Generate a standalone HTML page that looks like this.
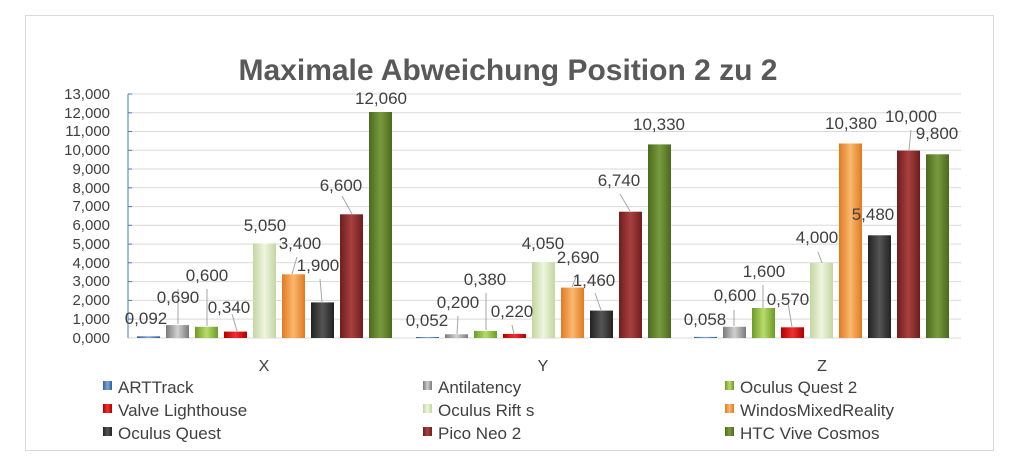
<!DOCTYPE html>
<html><head><meta charset="utf-8"><style>
body{margin:0;background:#fff;}
svg{display:block;font-family:"Liberation Sans",sans-serif;}
</style></head><body>
<svg width="1024" height="459" viewBox="0 0 1024 459" xmlns="http://www.w3.org/2000/svg">
<defs>
<linearGradient id="c0"><stop offset="0" stop-color="#2f5f9a"/><stop offset=".5" stop-color="#7ea7d8"/><stop offset="1" stop-color="#2f5f9a"/></linearGradient>
<linearGradient id="c1"><stop offset="0" stop-color="#7a7a7a"/><stop offset=".5" stop-color="#d0d0d0"/><stop offset="1" stop-color="#7a7a7a"/></linearGradient>
<linearGradient id="c2"><stop offset="0" stop-color="#6e9a28"/><stop offset=".5" stop-color="#b8dc6a"/><stop offset="1" stop-color="#6e9a28"/></linearGradient>
<linearGradient id="c3"><stop offset="0" stop-color="#b00000"/><stop offset=".5" stop-color="#f03030"/><stop offset="1" stop-color="#b00000"/></linearGradient>
<linearGradient id="c4"><stop offset="0" stop-color="#c4d6a0"/><stop offset=".5" stop-color="#eef5e0"/><stop offset="1" stop-color="#c4d6a0"/></linearGradient>
<linearGradient id="c5"><stop offset="0" stop-color="#e07a20"/><stop offset=".5" stop-color="#fbb870"/><stop offset="1" stop-color="#e07a20"/></linearGradient>
<linearGradient id="c6"><stop offset="0" stop-color="#222"/><stop offset=".5" stop-color="#555"/><stop offset="1" stop-color="#222"/></linearGradient>
<linearGradient id="c7"><stop offset="0" stop-color="#6e1e1e"/><stop offset=".5" stop-color="#a84040"/><stop offset="1" stop-color="#6e1e1e"/></linearGradient>
<linearGradient id="c8"><stop offset="0" stop-color="#4a6a1e"/><stop offset=".5" stop-color="#7a9a40"/><stop offset="1" stop-color="#4a6a1e"/></linearGradient>
</defs>
<rect x="25.5" y="15.5" width="968" height="435" fill="#fff" stroke="#d9d9d9"/>
<text x="508" y="80" text-anchor="middle" font-size="30" font-weight="bold" fill="#595959">Maximale Abweichung Position 2 zu 2</text>
<g stroke="#d9d9d9" stroke-width="1">
<line x1="128" x2="961" y1="94" y2="94"/><line x1="128" x2="961" y1="112.8" y2="112.8"/><line x1="128" x2="961" y1="131.5" y2="131.5"/><line x1="128" x2="961" y1="150.3" y2="150.3"/><line x1="128" x2="961" y1="169" y2="169"/><line x1="128" x2="961" y1="187.8" y2="187.8"/><line x1="128" x2="961" y1="206.6" y2="206.6"/><line x1="128" x2="961" y1="225.3" y2="225.3"/><line x1="128" x2="961" y1="244.1" y2="244.1"/><line x1="128" x2="961" y1="262.8" y2="262.8"/><line x1="128" x2="961" y1="281.6" y2="281.6"/><line x1="128" x2="961" y1="300.4" y2="300.4"/><line x1="128" x2="961" y1="319.1" y2="319.1"/><line x1="128" x2="961" y1="338" y2="338"/>
</g>
<line x1="128" x2="128" y1="94" y2="338" stroke="#4a7ebb"/>
<g stroke="#4a7ebb"><line x1="128" x2="132" y1="94" y2="94"/><line x1="128" x2="132" y1="112.8" y2="112.8"/><line x1="128" x2="132" y1="131.5" y2="131.5"/><line x1="128" x2="132" y1="150.3" y2="150.3"/><line x1="128" x2="132" y1="169" y2="169"/><line x1="128" x2="132" y1="187.8" y2="187.8"/><line x1="128" x2="132" y1="206.6" y2="206.6"/><line x1="128" x2="132" y1="225.3" y2="225.3"/><line x1="128" x2="132" y1="244.1" y2="244.1"/><line x1="128" x2="132" y1="262.8" y2="262.8"/><line x1="128" x2="132" y1="281.6" y2="281.6"/><line x1="128" x2="132" y1="300.4" y2="300.4"/><line x1="128" x2="132" y1="319.1" y2="319.1"/></g>
<g font-size="15" fill="#404040" text-anchor="end">
<text x="110" y="99">13,000</text><text x="110" y="118">12,000</text><text x="110" y="136">11,000</text><text x="110" y="155">10,000</text><text x="110" y="174">9,000</text><text x="110" y="193">8,000</text><text x="110" y="211">7,000</text><text x="110" y="230">6,000</text><text x="110" y="249">5,000</text><text x="110" y="268">4,000</text><text x="110" y="286">3,000</text><text x="110" y="305">2,000</text><text x="110" y="324">1,000</text><text x="110" y="343">0,000</text>
</g>
<g>
<rect x="137" y="336.3" width="23" height="1.7" fill="url(#c0)"/>
<rect x="166" y="325.1" width="23" height="12.9" fill="url(#c1)"/>
<rect x="195" y="326.8" width="23" height="11.2" fill="url(#c2)"/>
<rect x="224" y="331.6" width="23" height="6.4" fill="url(#c3)"/>
<rect x="253" y="243.4" width="23" height="94.6" fill="url(#c4)"/>
<rect x="282" y="274.3" width="23" height="63.7" fill="url(#c5)"/>
<rect x="311" y="302.4" width="23" height="35.6" fill="url(#c6)"/>
<rect x="340" y="214.3" width="23" height="123.7" fill="url(#c7)"/>
<rect x="369" y="112" width="23" height="226" fill="url(#c8)"/>

<rect x="416" y="337" width="23" height="1" fill="url(#c0)"/>
<rect x="445" y="334.3" width="23" height="3.7" fill="url(#c1)"/>
<rect x="474" y="330.9" width="23" height="7.1" fill="url(#c2)"/>
<rect x="503" y="333.9" width="23" height="4.1" fill="url(#c3)"/>
<rect x="532" y="262.1" width="23" height="75.9" fill="url(#c4)"/>
<rect x="561" y="287.6" width="23" height="50.4" fill="url(#c5)"/>
<rect x="590" y="310.6" width="23" height="27.4" fill="url(#c6)"/>
<rect x="619" y="211.7" width="23" height="126.3" fill="url(#c7)"/>
<rect x="648" y="144.4" width="23" height="193.6" fill="url(#c8)"/>

<rect x="694" y="336.9" width="23" height="1.1" fill="url(#c0)"/>
<rect x="723" y="326.8" width="23" height="11.2" fill="url(#c1)"/>
<rect x="752" y="308" width="23" height="30" fill="url(#c2)"/>
<rect x="781" y="327.3" width="23" height="10.7" fill="url(#c3)"/>
<rect x="810" y="263" width="23" height="75" fill="url(#c4)"/>
<rect x="839" y="143.5" width="23" height="194.5" fill="url(#c5)"/>
<rect x="868" y="235.3" width="23" height="102.7" fill="url(#c6)"/>
<rect x="897" y="150.6" width="23" height="187.4" fill="url(#c7)"/>
<rect x="926" y="154.3" width="23" height="183.7" fill="url(#c8)"/>
</g>
<g stroke="#a6a6a6" stroke-width="1">
<line x1="178" y1="289" x2="178" y2="324"/><line x1="207" y1="289" x2="207" y2="326"/><line x1="232" y1="314" x2="237" y2="331"/>
<line x1="297" y1="257" x2="292" y2="274"/><line x1="320" y1="279" x2="322" y2="302"/><line x1="342" y1="196" x2="352" y2="214"/>
<line x1="458" y1="316" x2="457" y2="334"/><line x1="486" y1="293" x2="486" y2="330"/><line x1="512" y1="325" x2="514" y2="334"/>
<line x1="577" y1="275" x2="572" y2="287"/><line x1="595" y1="293" x2="601" y2="310"/><line x1="620" y1="194" x2="630" y2="211"/>
<line x1="734" y1="310" x2="734" y2="326"/><line x1="763" y1="285" x2="763" y2="308"/><line x1="788" y1="303" x2="792" y2="327"/><line x1="818" y1="252" x2="822" y2="263"/><line x1="911" y1="130" x2="909" y2="150"/>
</g>
<g font-size="17" fill="#404040" text-anchor="middle">
<text x="146" y="324">0,092</text><text x="178" y="303">0,690</text><text x="207" y="281">0,600</text><text x="229" y="313">0,340</text><text x="265" y="231">5,050</text><text x="300" y="249">3,400</text><text x="318" y="271">1,900</text><text x="341" y="191">6,600</text><text x="381" y="104">12,060</text>
<text x="427" y="326">0,052</text><text x="458" y="308">0,200</text><text x="485" y="285">0,380</text><text x="512" y="317">0,220</text><text x="543" y="249">4,050</text><text x="578" y="263">2,690</text><text x="594" y="286">1,460</text><text x="619" y="186">6,740</text><text x="659" y="130">10,330</text>
<text x="705" y="325">0,058</text><text x="735" y="301">0,600</text><text x="764" y="277">1,600</text><text x="788" y="305">0,570</text><text x="817" y="243">4,000</text><text x="851" y="129">10,380</text><text x="873" y="220">5,480</text><text x="911" y="122">10,000</text><text x="937" y="139">9,800</text>
</g>
<g font-size="16" fill="#404040" text-anchor="middle"><text x="264" y="371">X</text><text x="543" y="371">Y</text><text x="822" y="371">Z</text></g>
<g font-size="17" fill="#404040">
<rect x="103" y="381" width="9" height="9" fill="url(#c0)"/><text x="118" y="393">ARTTrack</text>
<rect x="423" y="381" width="9" height="9" fill="url(#c1)"/><text x="438" y="393">Antilatency</text>
<rect x="725" y="381" width="9" height="9" fill="url(#c2)"/><text x="740" y="393">Oculus Quest 2</text>
<rect x="103" y="404" width="9" height="9" fill="url(#c3)"/><text x="118" y="416">Valve Lighthouse</text>
<rect x="423" y="404" width="9" height="9" fill="url(#c4)"/><text x="438" y="416">Oculus Rift s</text>
<rect x="725" y="404" width="9" height="9" fill="url(#c5)"/><text x="740" y="416">WindosMixedReality</text>
<rect x="103" y="427" width="9" height="9" fill="url(#c6)"/><text x="118" y="439">Oculus Quest</text>
<rect x="423" y="427" width="9" height="9" fill="url(#c7)"/><text x="438" y="439">Pico Neo 2</text>
<rect x="725" y="427" width="9" height="9" fill="url(#c8)"/><text x="740" y="439">HTC Vive Cosmos</text>
</g>
</svg>
</body></html>
